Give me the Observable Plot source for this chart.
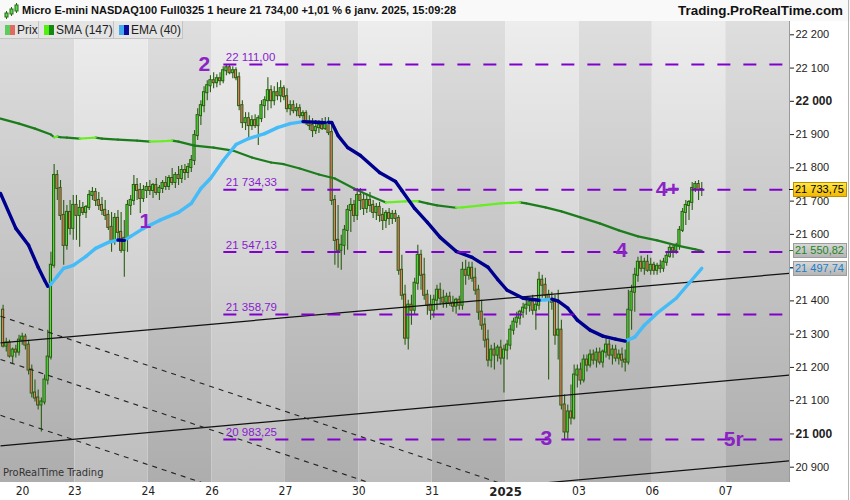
<!DOCTYPE html>
<html lang="fr">
<head>
<meta charset="utf-8">
<script src="https://cdn.jsdelivr.net/npm/d3@7"></script>
<script src="https://cdn.jsdelivr.net/npm/@observablehq/plot@0.6"></script>
<style>
html,body{margin:0;padding:0;background:#fff;}
#wrap{position:relative;width:850px;height:500px;overflow:hidden;font-family:"Liberation Sans",Arial,sans-serif;background:#fff;}
#head{position:absolute;left:0;top:0;width:850px;height:21px;background:#f9f9f9;}
#title{position:absolute;left:22px;top:4px;font-weight:bold;font-size:11px;color:#111;white-space:nowrap;}
#site{position:absolute;right:7px;top:3px;font-weight:bold;font-size:13.4px;color:#111;}
#icon{position:absolute;left:3px;top:2px;}
#chart{position:absolute;left:0;top:21px;}
#legend{position:absolute;left:0;top:21px;height:18px;display:flex;}
.lg{box-sizing:border-box;height:18px;display:flex;align-items:center;background:#e4e4e4;border-right:1px solid #c4c4c4;border-bottom:1px solid #c4c4c4;font-size:12px;color:#222;padding-left:5px;white-space:nowrap;overflow:hidden;}
.ic{display:inline-block;width:10px;height:10px;margin-right:2px;}
#wm{position:absolute;left:3px;top:466px;font-family:"Liberation Sans Narrow","DejaVu Sans Condensed","Liberation Sans",sans-serif;font-size:11px;color:#333;}
#frameR{position:absolute;left:848px;top:0;width:1px;height:500px;background:#b4b4b4;}
</style>
</head>
<body>
<div id="wrap">
  <div id="head">
    <svg id="icon" width="17" height="18">
      <g stroke="#2a6a10" stroke-width="1">
        <line x1="3.5" y1="9" x2="3.5" y2="17"/><rect x="2" y="11" width="3" height="4" fill="#5d5"/>
        <line x1="8.5" y1="5" x2="8.5" y2="14"/><rect x="7" y="7" width="3" height="5" fill="#5d5"/>
        <line x1="13.5" y1="1" x2="13.5" y2="11"/><rect x="12" y="3" width="3" height="6" fill="#5d5"/>
      </g>
    </svg>
    <div id="title">Micro E-mini NASDAQ100 Full0325 1 heure 21 734,00 +1,01 % 6 janv. 2025, 15:09:28</div>
    <div id="site">Trading.ProRealTime.com</div>
  </div>
  <div id="chart"></div>
  <div id="legend">
    <div class="lg" style="width:39px"><i class="ic" style="background:linear-gradient(90deg,#5ccc5c 50%,#e06a62 50%)"></i>Prix</div>
    <div class="lg" style="width:75px"><i class="ic" style="background:linear-gradient(90deg,#55ee11 50%,#128a12 50%)"></i>SMA (147)</div>
    <div class="lg" style="width:69px"><i class="ic" style="background:linear-gradient(90deg,#44aaf0 50%,#0a0aa0 50%)"></i>EMA (40)</div>
  </div>
  <div id="wm">ProRealTime Trading</div>
  <div id="frameR"></div>
</div>
<script>
// ---------- hourly OHLC bars (bar index = position in arrays) ----------
const opens = [
21372,21264,21273,21234,21252,21246,21282,21291,21267,21192,
21123,21108,21087,21096,21162,21231,21507,21777,21738,21657,
21567,21666,21618,21687,21657,21678,21666,21681,21717,21726,
21702,21687,21672,21657,21621,21582,21648,21606,21552,21588,
21687,21702,21747,21732,21708,21732,21741,21732,21747,21726,
21738,21753,21744,21768,21756,21777,21768,21792,21786,21801,
21822,21897,21957,21987,22026,22047,22062,22056,22068,22062,
22092,22101,22086,22092,22071,21987,21936,21948,21927,21942,
21927,21948,21987,22002,22032,22002,22026,22017,22038,22014,
21978,21987,21972,21978,21957,21963,21936,21927,21912,21921,
21927,21918,21936,21906,21702,21582,21552,21567,21612,21672,
21687,21657,21717,21702,21678,21702,21687,21666,21681,21657,
21642,21663,21648,21660,21648,21492,21417,21288,21387,21372,
21453,21537,21477,21417,21387,21372,21402,21432,21408,21396,
21411,21393,21384,21402,21387,21492,21477,21498,21468,21432,
21366,21327,21282,21222,21252,21237,21258,21228,21252,21267,
21312,21336,21348,21366,21378,21387,21396,21372,21387,21462,
21447,21417,21402,21396,21297,21312,21087,21006,21066,21048,
21177,21192,21162,21222,21207,21237,21222,21243,21216,21246,
21267,21237,21252,21228,21237,21222,21216,21372,21426,21477,
21516,21498,21516,21492,21507,21492,21504,21498,21516,21534,
21558,21552,21567,21612,21666,21687,21696,21738,21750,21735];
const highs = [
21387,21288,21282,21258,21267,21297,21303,21300,21282,21207,
21162,21132,21108,21177,21312,21546,21810,21792,21762,21702,
21687,21702,21717,21717,21702,21696,21687,21732,21741,21738,
21726,21711,21702,21672,21666,21663,21672,21666,21642,21702,
21717,21777,21768,21753,21747,21756,21762,21753,21768,21747,
21762,21774,21777,21798,21786,21804,21807,21810,21813,21837,
21912,21978,22002,22044,22062,22077,22086,22080,22086,22104,
22111,22110,22104,22101,22086,22002,21966,21966,21957,21960,
21957,22002,22014,22071,22047,22044,22056,22062,22047,22038,
22002,22002,21993,21990,21972,21972,21957,21948,21942,21942,
21948,21951,21951,21927,21717,21687,21597,21627,21687,21708,
21702,21738,21738,21723,21717,21726,21702,21693,21696,21678,
21672,21678,21672,21672,21657,21537,21447,21402,21417,21468,
21567,21552,21528,21432,21417,21417,21447,21453,21432,21423,
21426,21414,21408,21414,21516,21522,21516,21516,21498,21447,
21402,21348,21312,21267,21273,21267,21282,21267,21282,21327,
21348,21366,21372,21393,21402,21408,21417,21402,21486,21477,
21468,21432,21426,21417,21432,21342,21117,21087,21147,21207,
21207,21213,21237,21237,21252,21252,21258,21258,21252,21288,
21282,21267,21267,21252,21258,21252,21432,21447,21498,21531,
21534,21528,21537,21528,21516,21513,21522,21528,21546,21567,
21567,21573,21624,21678,21702,21702,21756,21759,21762,21756];
const lows = [
21258,21246,21228,21210,21228,21234,21267,21252,21177,21108,
21096,21072,21006,21087,21147,21222,21498,21702,21642,21507,
21552,21597,21582,21582,21561,21657,21648,21672,21702,21684,
21672,21657,21642,21612,21546,21567,21582,21543,21471,21546,
21657,21687,21702,21663,21696,21708,21717,21708,21717,21702,
21723,21732,21732,21747,21738,21747,21753,21762,21768,21786,
21807,21882,21927,21966,22002,22026,22038,22041,22047,22053,
22077,22080,22068,22062,21972,21918,21912,21891,21912,21918,
21867,21936,21948,21972,21978,21987,22002,21996,22002,21966,
21957,21963,21954,21948,21942,21927,21912,21891,21900,21903,
21912,21912,21897,21687,21507,21498,21492,21537,21552,21606,
21636,21642,21672,21657,21663,21666,21648,21642,21636,21612,
21618,21627,21630,21636,21477,21402,21267,21252,21327,21357,
21432,21432,21402,21357,21342,21348,21372,21387,21378,21378,
21384,21366,21360,21372,21372,21447,21462,21456,21417,21342,
21312,21258,21201,21198,21192,21216,21207,21123,21222,21252,
21297,21318,21327,21348,21357,21366,21357,21312,21372,21408,
21402,21162,21372,21267,21222,21072,20983.25,20984,21027,21042,
21138,21147,21153,21186,21198,21207,21198,21207,21198,21228,
21222,21207,21216,21207,21198,21186,21207,21312,21366,21456,
21486,21477,21486,21477,21477,21477,21483,21486,21504,21528,
21528,21540,21552,21606,21627,21642,21672,21726,21702,21714];
const closes = [
21264,21273,21234,21252,21246,21282,21291,21267,21192,21123,
21108,21087,21096,21162,21231,21507,21777,21738,21657,21567,
21666,21618,21687,21657,21678,21666,21681,21717,21726,21702,
21687,21672,21657,21621,21582,21648,21606,21552,21588,21687,
21702,21747,21732,21708,21732,21741,21732,21747,21726,21738,
21753,21744,21768,21756,21777,21768,21792,21786,21801,21822,
21897,21957,21987,22026,22047,22062,22056,22068,22062,22092,
22101,22086,22092,22071,21987,21936,21948,21927,21942,21927,
21948,21987,22002,22032,22002,22026,22017,22038,22014,21978,
21987,21972,21978,21957,21963,21936,21927,21912,21921,21927,
21918,21936,21906,21702,21582,21552,21567,21612,21672,21687,
21657,21717,21702,21678,21702,21687,21666,21681,21657,21642,
21663,21648,21660,21648,21492,21417,21288,21387,21372,21453,
21537,21477,21417,21387,21372,21402,21432,21408,21396,21411,
21393,21384,21402,21387,21492,21477,21498,21468,21432,21366,
21327,21282,21222,21252,21237,21258,21228,21252,21267,21312,
21336,21348,21366,21378,21387,21396,21372,21387,21462,21447,
21417,21402,21396,21297,21312,21087,21006,21066,21048,21177,
21192,21162,21222,21207,21237,21222,21243,21216,21246,21267,
21237,21252,21228,21237,21222,21216,21372,21426,21477,21516,
21498,21516,21492,21507,21492,21504,21498,21516,21534,21558,
21552,21567,21612,21666,21687,21696,21738,21750,21735,21733.75];

// ---------- indicators (bar index -> value) ----------
const smaBars = [-0.8,5,10,15,16,17,18,20,24,26,29,31,36,42,46,50,53,55,60,66,72,78,84,88,93,99,104,110,114,120,122,126,130,133,136,142,144,150,156,162,164,170,175,181,187,193,199,205,211,217,219];
const smaVals = [21948,21933,21918,21900,21892,21894,21892,21891,21888,21889,21891,21888,21885,21882,21879,21880,21882,21879,21867,21861,21852,21831,21816,21811,21798,21780,21768,21738,21720,21696,21697,21699,21700,21693,21687,21680,21681,21687,21693,21696,21693,21681,21669,21651,21633,21612,21594,21582,21567,21555,21550.82];
const emaBars = [-0.8,4,8,11,13,14,15,17,19,22,26,29,33,36,38,40,44,49,55,59,62,65,69,73,77,82,86,90,94,98,101,102,103,105,108,112,118,123,125,129,133,137,142,147,152,155,158,163,168,170,172,174,177,180,184,188,192,195,198,201,205,211,215,219];
const emaVals = [21723,21618,21567,21501,21462,21444,21450,21474,21498,21507,21534,21558,21576,21583,21582,21594,21618,21642,21666,21693,21738,21768,21822,21870,21888,21903,21921,21933,21939,21937,21936,21937,21936,21897,21861,21837,21786,21759,21732,21678,21636,21591,21549,21531,21501,21465,21432,21408,21402,21403,21405,21399,21378,21342,21312,21294,21285,21279,21291,21327,21363,21408,21453,21497.74];

// ---------- drawn objects ----------
const levelValues = [22111.00, 21734.33, 21547.13, 21358.79, 20983.25];
const levelStartBar = 69.2;
const waveLabels = ["1", "2", "3", "4", "4+", "5r"];
const waveBars = [44.6, 63.1, 170.3, 193.9, 208.3, 229];
const waveVals = [21639, 22110, 20988, 21552, 21735, 20985];
const trendSolid = [[-0.81, 21274, 246.5, 21483], [-0.81, 20964, 246.5, 21177], [156.2, 20841, 246.5, 20919]];
const trendDashed = [[-0.81, 21354, 187.3, 20751], [-0.81, 21224, 187.3, 20621], [-0.81, 21056, 187.3, 20453]];

// ---------- axes ----------
const dayStarts = [0, 23, 46, 66, 89, 112, 135, 158, 181, 204, 227];
const xTickPos = [6.1, 22.5, 45.5, 65.5, 88.5, 111.5, 134.5, 157.5, 180.5, 203.5, 226.5];
const xTickLabels = ["20", "23", "24", "26", "27", "30", "31", "2025", "03", "06", "07"];
const yTicks = [20900, 21000, 21100, 21200, 21300, 21400, 21500, 21600, 21700, 21800, 21900, 22000, 22100, 22200];
const xDomain = [-0.81, 246.5];
const yDomain = [20854, 22240];

// ---------- build ----------
const fr = d3.formatLocale({decimal: ",", thousands: " ", grouping: [3], currency: ["", ""]});
const fmt2 = fr.format(",.2f");
const fmt0 = fr.format(",.0f");

const bars = closes.map((c, i) => ({i, open: opens[i], high: highs[i], low: lows[i], close: c}));
const upBars = bars.filter(d => d.close >= d.open);
const downBars = bars.filter(d => d.close < d.open);

const bands = dayStarts.map((s, k) => ({
  x1: k === 0 ? xDomain[0] : s - 0.5,
  x2: k < dayStarts.length - 1 ? dayStarts[k + 1] - 0.5 : xDomain[1],
  dark: k % 2 === 0
}));

function segs(xs, vs) {
  const out = [];
  for (let k = 1; k < xs.length; k++) out.push({x1: xs[k - 1], y1: vs[k - 1], x2: xs[k], y2: vs[k], up: vs[k] >= vs[k - 1]});
  return out;
}
const smaSegs = segs(smaBars, smaVals);
const emaSegs = segs(emaBars, emaVals);
const solid = trendSolid.map(([x1, y1, x2, y2]) => ({x1, y1, x2, y2}));
const dashed = trendDashed.map(([x1, y1, x2, y2]) => ({x1, y1, x2, y2}));
const waves = waveLabels.map((t, k) => ({t, x: waveBars[k], y: waveVals[k]}));

const tags = [
  {value: closes[closes.length - 1], fill: "url(#tagYellow2)", border: "#b89000", color: "#000", tick: "#000"},
  {value: smaVals[smaVals.length - 1], fill: "url(#tagGray2)", border: "#9c9c9c", color: "#1d861d", tick: "#1d861d"},
  {value: emaVals[emaVals.length - 1], fill: "url(#tagGray2)", border: "#9c9c9c", color: "#1a7fc8", tick: "#44b4f0"}
];

function defsMark() {
  const defs = d3.create("svg:defs");
  const grad = (id, stops) => {
    const g = defs.append("linearGradient").attr("id", id).attr("x1", 0).attr("y1", 0).attr("x2", 0).attr("y2", 1);
    stops.forEach(([o, c]) => g.append("stop").attr("offset", o).attr("stop-color", c));
  };
  grad("bgDark", [[0, "#dedede"], [1, "#adadad"]]);
  grad("bgLight", [[0, "#ededed"], [1, "#bdbdbd"]]);
  return defs.node();
}

const darkGreen = "#2b5d12";
const purple = "#8000cc";

const chart = Plot.plot({
  width: 850,
  height: 479,
  marginTop: 0, marginRight: 61, marginBottom: 18, marginLeft: 0,
  style: {background: "#fff", fontFamily: "Liberation Sans, Arial, sans-serif", fontSize: "11px", color: "#222", overflow: "visible"},
  x: {type: "linear", domain: xDomain, axis: "bottom", ticks: xTickPos,
      tickFormat: d => xTickLabels[xTickPos.indexOf(d)], tickSize: 0, tickPadding: 4, label: null},
  y: {type: "linear", domain: yDomain, axis: "right", ticks: yTicks,
      tickFormat: d => fmt0(d), tickSize: 4, tickPadding: 2, label: null},
  marks: [
    defsMark,
    Plot.rect(bands.filter(b => b.dark), {x1: "x1", x2: "x2", fill: "url(#bgDark)"}),
    Plot.rect(bands.filter(b => !b.dark), {x1: "x1", x2: "x2", fill: "url(#bgLight)"}),
    Plot.ruleX(bars, {x: "i", y1: "low", y2: "high", stroke: darkGreen, strokeWidth: 1.1}),
    Plot.rect(upBars, {x1: d => d.i - 0.34, x2: d => d.i + 0.34, y1: "open", y2: "close",
      fill: "#4fe03a", stroke: darkGreen, strokeWidth: 1, insetTop: -0.5, insetBottom: -0.5}),
    Plot.rect(downBars, {x1: d => d.i - 0.34, x2: d => d.i + 0.34, y1: "open", y2: "close",
      fill: "#ee7a62", stroke: darkGreen, strokeWidth: 1, insetTop: -0.5, insetBottom: -0.5}),
    Plot.link(solid, {x1: "x1", y1: "y1", x2: "x2", y2: "y2", stroke: "#111", strokeWidth: 1.2, clip: true}),
    Plot.link(dashed, {x1: "x1", y1: "y1", x2: "x2", y2: "y2", stroke: "#222", strokeWidth: 1.1, strokeDasharray: "5,5", clip: true}),
    Plot.link(smaSegs.filter(d => !d.up), {x1: "x1", y1: "y1", x2: "x2", y2: "y2", stroke: "#1c7c1c", strokeWidth: 2.2, strokeLinecap: "round", clip: true}),
    Plot.link(smaSegs.filter(d => d.up), {x1: "x1", y1: "y1", x2: "x2", y2: "y2", stroke: "#66ee22", strokeWidth: 2.2, strokeLinecap: "round", clip: true}),
    Plot.link(emaSegs.filter(d => d.up), {x1: "x1", y1: "y1", x2: "x2", y2: "y2", stroke: "#45bbf8", strokeWidth: 3.4, strokeLinecap: "round", clip: true}),
    Plot.link(emaSegs.filter(d => !d.up), {x1: "x1", y1: "y1", x2: "x2", y2: "y2", stroke: "#00008f", strokeWidth: 3.4, strokeLinecap: "round", clip: true}),
    Plot.ruleY(levelValues, {y: d => d, x1: levelStartBar, x2: xDomain[1], stroke: purple, strokeWidth: 2, strokeDasharray: "13,13"}),
    Plot.text(levelValues, {x: levelStartBar, y: d => d, text: d => fmt2(d), textAnchor: "start", dx: 2, dy: -7,
      fill: "#8a1ad0", fontSize: 11.5}),
    Plot.text(waves, {x: "x", y: "y", text: "t", fill: "#8b22c6", fontSize: 21, fontWeight: "bold"}),
    Plot.ruleX([xDomain[1]], {stroke: "#9a9a9a", strokeWidth: 1})
  ]
});

const svg = d3.select(chart);
// y scale (from Plot) for the price tags drawn on the right axis
const ys = chart.scale("y");
const yPix = ys && typeof ys.apply === "function" ? (v) => ys.apply(v)
  : d3.scaleLinear().domain(yDomain).range([479 - 18, 0]);

// hide axis labels covered by a tag, bold the round thousands
svg.selectAll("text").each(function () {
  const t = this.textContent;
  if (t === "22 000" || t === "21 000") d3.select(this).attr("font-weight", "bold").attr("font-size", 12);
  const v = yTicks.find(d => fmt0(d) === t);
  if (v !== undefined && tags.some(tg => Math.abs(yPix(tg.value) - yPix(v)) < 8)) d3.select(this).remove();
});
svg.selectAll("[aria-label^='x-axis'] text").each(function () {
  const s = d3.select(this)
    .attr("font-family", "Liberation Sans Narrow, DejaVu Sans Condensed, Liberation Sans, sans-serif")
    .attr("font-size", 12);
  if (this.textContent === "2025") s.attr("font-weight", "bold").attr("font-size", 13);
});

// price tags
const tg = svg.append("g").attr("class", "pricetags");
const defs2 = tg.append("defs");
const grad2 = (id, stops) => {
  const g = defs2.append("linearGradient").attr("id", id).attr("x1", 0).attr("y1", 0).attr("x2", 0).attr("y2", 1);
  stops.forEach(([o, c]) => g.append("stop").attr("offset", o).attr("stop-color", c));
};
grad2("tagYellow2", [[0, "#ffe84a"], [1, "#f2b800"]]);
grad2("tagGray2", [[0, "#d8d8d8"], [1, "#b4b4b4"]]);
const x0 = 850 - 61;
for (const t of tags) {
  const yy = Math.round(yPix(t.value)) + 0.5;
  tg.append("line").attr("x1", x0).attr("x2", x0 + 4).attr("y1", yy).attr("y2", yy).attr("stroke", t.tick);
  tg.append("rect").attr("x", x0 + 4.5).attr("y", yy - 7).attr("width", 53).attr("height", 14)
    .attr("fill", t.fill).attr("stroke", t.border).attr("stroke-width", 1);
  tg.append("text").attr("x", x0 + 6).attr("y", yy).attr("dy", "0.36em").attr("text-anchor", "start")
    .attr("font-size", 11).attr("fill", t.color).text(fmt2(t.value));
}
document.getElementById("chart").appendChild(chart);
</script>
</body>
</html>
